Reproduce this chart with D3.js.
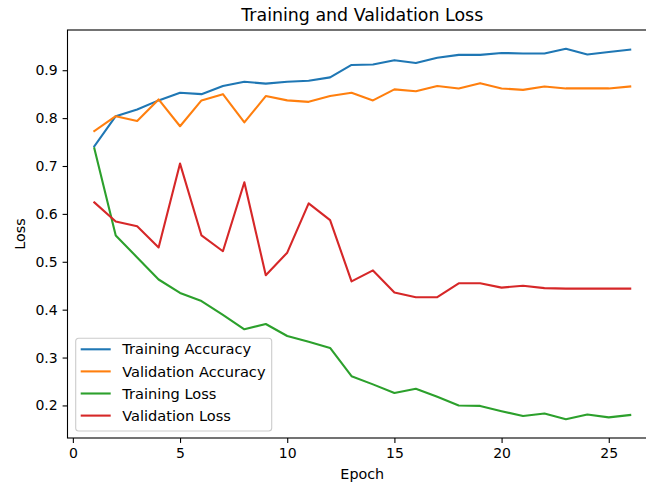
<!DOCTYPE html>
<html>
<head>
<meta charset="utf-8">
<script src="https://cdn.jsdelivr.net/npm/d3@7"></script>
<style>
  body { margin: 0; background: #fff; }
  svg { display: block; overflow: hidden; }
  text { font-family: "DejaVu Sans", sans-serif; fill: #000; }
</style>
</head>
<body>
<div id="vis"></div>
<script>
const epochs = [1, 2, 3, 4, 5, 6, 7, 8, 9, 10, 11, 12, 13, 14, 15, 16, 17, 18, 19, 20, 21, 22, 23, 24, 25, 26];

const trainAcc = [0.741, 0.804, 0.818, 0.837, 0.853, 0.850, 0.867, 0.876, 0.872, 0.876, 0.878, 0.885, 0.911,
    0.912, 0.921, 0.915, 0.926, 0.932, 0.932, 0.936, 0.935, 0.935, 0.945, 0.933, 0.938, 0.943];
const valAcc = [0.773, 0.804, 0.794, 0.839, 0.783, 0.837, 0.850, 0.791, 0.846, 0.837, 0.834, 0.846, 0.853,
    0.837, 0.860, 0.856, 0.867, 0.862, 0.873, 0.862, 0.859, 0.866, 0.862, 0.862, 0.862, 0.866];
const trainLoss = [0.737, 0.555, 0.509, 0.463, 0.435, 0.418, 0.389, 0.359, 0.370, 0.345, 0.333, 0.320, 0.261,
    0.244, 0.226, 0.235, 0.218, 0.200, 0.199, 0.188, 0.178, 0.183, 0.171, 0.181, 0.175, 0.180];
const valLoss = [0.624, 0.584, 0.574, 0.530, 0.705, 0.555, 0.522, 0.666, 0.472, 0.519, 0.622, 0.587, 0.459,
    0.482, 0.436, 0.426, 0.426, 0.455, 0.455, 0.446, 0.450, 0.445, 0.444, 0.444, 0.444, 0.444];

const seriesNames = ["Training Accuracy", "Validation Accuracy", "Training Loss", "Validation Loss"];
const seriesValues = [trainAcc, valAcc, trainLoss, valLoss];
const colors = ["#1f77b4", "#ff7f0e", "#2ca02c", "#d62728"];

const xTicks = [0, 5, 10, 15, 20, 25];
const yTicks = [0.2, 0.3, 0.4, 0.5, 0.6, 0.7, 0.8, 0.9];

const totalWidth = 646, totalHeight = 483;
// plot area runs past the right edge of the picture, like the reference crop
const margin = { top: 30, left: 67.5 };
const width = 589.5;
const height = 408;

const svg = d3.select("#vis")
    .append("svg")
    .attr("width", totalWidth)
    .attr("height", totalHeight);

const g = svg.append("g")
    .attr("transform", `translate(${margin.left},${margin.top})`);

const xScale = d3.scaleLinear()
    .domain([-0.25, 27.25])
    .range([0, width]);

const yScale = d3.scaleLinear()
    .domain([0.132, 0.984])
    .range([height, 0]);

const xAxis = d3.axisBottom(xScale)
    .tickValues(xTicks)
    .tickSize(4.9)
    .tickPadding(4.9)
    .tickFormat(d3.format("d"));

const yAxis = d3.axisLeft(yScale)
    .tickValues(yTicks)
    .tickSize(4.9)
    .tickPadding(4.9)
    .tickFormat(d3.format(".1f"));

const xAxisGroup = g.append("g")
    .attr("transform", `translate(0,${height})`)
    .call(xAxis);

const yAxisGroup = g.append("g")
    .call(yAxis);

[xAxisGroup, yAxisGroup].forEach(ax => {
    ax.select(".domain").remove();
    ax.selectAll(".tick line").attr("stroke", "#000").attr("stroke-width", 1.1);
    ax.selectAll(".tick text")
        .style("font-size", "14px")
        .style("font-family", "DejaVu Sans, sans-serif")
        .attr("fill", "#222");
});

const line = d3.line()
    .x((d, i) => xScale(epochs[i]))
    .y(d => yScale(d));

seriesValues.forEach((vals, i) => {
    g.append("path")
        .datum(vals)
        .attr("fill", "none")
        .attr("stroke", colors[i])
        .attr("stroke-width", 2.1)
        .attr("stroke-linejoin", "round")
        .attr("stroke-linecap", "square")
        .attr("d", line);
});

// spines
g.append("rect")
    .attr("x", 0)
    .attr("y", 0)
    .attr("width", width)
    .attr("height", height)
    .attr("fill", "none")
    .attr("stroke", "#000")
    .attr("stroke-width", 1.1);

// legend
const legend = g.append("g")
    .attr("transform", `translate(${75.7 - margin.left},${338.3 - margin.top})`);

legend.append("rect")
    .attr("width", 196)
    .attr("height", 92.7)
    .attr("rx", 3)
    .attr("fill", "#fff")
    .attr("fill-opacity", 0.8)
    .attr("stroke", "#ccc")
    .attr("stroke-width", 1.1);

seriesNames.forEach((name, i) => {
    const yy = 11 + i * 22.1;
    legend.append("line")
        .attr("x1", 5)
        .attr("x2", 35)
        .attr("y1", yy)
        .attr("y2", yy)
        .attr("stroke", colors[i])
        .attr("stroke-width", 2.1);
    legend.append("text")
        .attr("x", 46.5)
        .attr("y", yy)
        .attr("dy", "0.35em")
        .style("font-size", "14.6px")
        .attr("fill", "#222")
        .text(name);
});

svg.append("text")
    .attr("x", margin.left + width / 2)
    .attr("y", 20.5)
    .attr("text-anchor", "middle")
    .style("font-size", "17.4px")
    .attr("fill", "#222")
    .text("Training and Validation Loss");

svg.append("text")
    .attr("x", margin.left + width / 2)
    .attr("y", 479)
    .attr("text-anchor", "middle")
    .style("font-size", "14.3px")
    .attr("fill", "#222")
    .text("Epoch");

svg.append("text")
    .attr("transform", `translate(25,${margin.top + height / 2}) rotate(-90)`)
    .attr("text-anchor", "middle")
    .style("font-size", "14.3px")
    .attr("fill", "#222")
    .text("Loss");
</script>
</body>
</html>
